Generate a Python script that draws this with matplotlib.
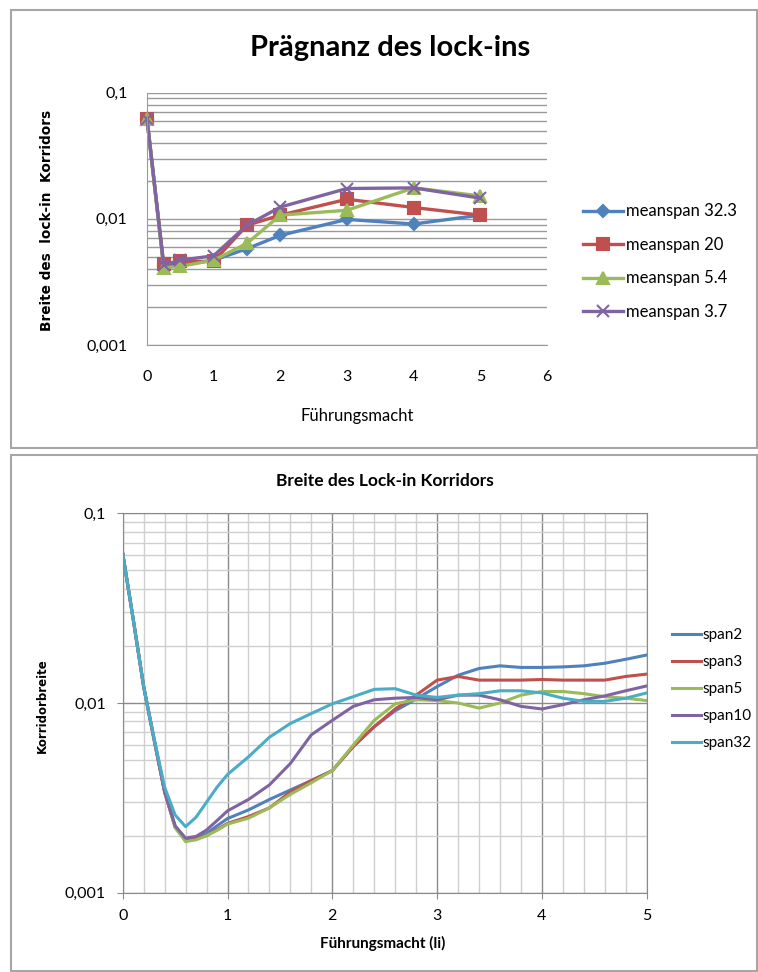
import matplotlib
matplotlib.use('Agg')
import matplotlib.pyplot as plt
from matplotlib.patches import Rectangle
from matplotlib.ticker import LogLocator, NullFormatter

plt.rcParams['font.family'] = ['Lato', 'DejaVu Sans']

# top chart: Prägnanz des lock-ins
top_x = [0, 0.25, 0.5, 1, 1.5, 2, 3, 4, 5]
meanspan_32 = [0.062, 0.0042, 0.0043, 0.0047, 0.0058, 0.0074, 0.0099, 0.0091, 0.0107]
meanspan_20 = [0.062, 0.0044, 0.0046, 0.0046, 0.0089, 0.0107, 0.0143, 0.0123, 0.0107]
meanspan_5 = [0.062, 0.0041, 0.0042, 0.0047, 0.0064, 0.0107, 0.0117, 0.0176, 0.0152]
meanspan_3 = [0.062, 0.0043, 0.0047, 0.0051, 0.0089, 0.0124, 0.0174, 0.0176, 0.0146]

# bottom chart: Breite des Lock-in Korridors
bot_x = [0, 0.1, 0.2, 0.3, 0.4, 0.5, 0.6, 0.7, 0.8, 0.9, 1.0, 1.2, 1.4, 1.6, 1.8, 2.0, 2.2, 2.4,
         2.6, 2.8, 3.0, 3.2, 3.4, 3.6, 3.8, 4.0, 4.2, 4.4, 4.6, 4.8, 5.0]
span2 = [0.0615, 0.0277, 0.0122, 0.0064, 0.0034, 0.00225, 0.00192, 0.00196, 0.00205, 0.00225,
         0.00246, 0.00273, 0.0031, 0.00348, 0.0039, 0.0044, 0.0059, 0.0075, 0.0091, 0.0105,
         0.0122, 0.0140, 0.0152, 0.0157, 0.0154, 0.0154, 0.0155, 0.0157, 0.0162, 0.0170, 0.0179]
span3 = [0.0615, 0.0277, 0.0122, 0.0064, 0.0034, 0.00222, 0.0019, 0.00192, 0.0020, 0.00215,
         0.00232, 0.00252, 0.0028, 0.0034, 0.0039, 0.0044, 0.0059, 0.0075, 0.0093, 0.0110,
         0.0132, 0.0138, 0.0132, 0.0132, 0.0132, 0.0133, 0.0132, 0.0132, 0.0132, 0.0138, 0.0142]
span5 = [0.0615, 0.0277, 0.0122, 0.0064, 0.0034, 0.0022, 0.00186, 0.0019, 0.0020, 0.00213,
         0.00230, 0.00247, 0.0028, 0.0033, 0.0038, 0.0044, 0.0060, 0.0081, 0.0099, 0.0104,
         0.0103, 0.0100, 0.0094, 0.0100, 0.0110, 0.0115, 0.0115, 0.0112, 0.0108, 0.0106, 0.0103]
span10 = [0.0615, 0.0277, 0.0122, 0.0064, 0.0034, 0.00225, 0.00194, 0.00198, 0.00214, 0.0024,
          0.0027, 0.0031, 0.0037, 0.0048, 0.0068, 0.0081, 0.0096, 0.0104, 0.0106, 0.0107,
          0.0104, 0.0110, 0.0110, 0.0104, 0.0096, 0.0093, 0.0098, 0.0104, 0.0109, 0.0116, 0.0123]
span32 = [0.0615, 0.0277, 0.0122, 0.0065, 0.0036, 0.00257, 0.00223, 0.0025, 0.0030, 0.0036,
          0.0042, 0.0052, 0.0066, 0.0078, 0.0088, 0.0099, 0.0108, 0.0118, 0.0119, 0.0110,
          0.0107, 0.0110, 0.0112, 0.0116, 0.0116, 0.0113, 0.0106, 0.0102, 0.0102, 0.0106, 0.0113]

y_ticks = [0.001, 0.01, 0.1]
y_tick_labels = ['0,001', '0,01', '0,1']

BLUE, RED, GREEN, PURPLE, CYAN = '#4F81BD', '#C0504D', '#9BBB59', '#8064A2', '#4BACC6'


def px(x0, y0, x1, y1):
    W, H = 758.0, 972.0
    return [x0 / W, 1 - y1 / H, (x1 - x0) / W, (y1 - y0) / H]


fig = plt.figure(figsize=(7.58, 9.72), dpi=100)
fig.patch.set_facecolor('white')

# panel borders
for rect in (px(11, 10, 757, 448), px(11, 455, 757, 971)):
    fig.patches.append(Rectangle((rect[0], rect[1]), rect[2], rect[3], transform=fig.transFigure,
                                 fill=False, edgecolor='#a6a6a6', lw=1.5))

# ---------- top chart ----------
ax = fig.add_axes(px(147, 92.7, 547, 345))
ax.set_yscale('log')
ax.set_ylim(0.001, 0.1)
ax.set_xlim(0, 6)
top = [
    ('meanspan 32.3', meanspan_32, 'D', 6, BLUE),
    ('meanspan 20', meanspan_20, 's', 8, RED),
    ('meanspan 5.4', meanspan_5, '^', 8, GREEN),
    ('meanspan 3.7', meanspan_3, 'x', 9, PURPLE),
]
for name, vals, mk, ms, color in top:
    ax.plot(top_x, vals, marker=mk, markersize=ms, color=color, lw=2.4, mew=1.5,
            label=name, clip_on=False)
ax.set_yticks(y_ticks)
ax.set_yticklabels(y_tick_labels)
ax.yaxis.set_minor_locator(LogLocator(base=10, subs=range(2, 10)))
ax.yaxis.set_minor_formatter(NullFormatter())
ax.set_xticks(range(0, 7))
ax.grid(which='both', axis='y', color='#9a9a9a', lw=1)
ax.set_axisbelow(True)
for s in ('top', 'right'):
    ax.spines[s].set_visible(False)
for s in ('left', 'bottom'):
    ax.spines[s].set_color('#9a9a9a')
ax.tick_params(axis='x', length=0, pad=18, labelsize=11.5)
ax.tick_params(axis='y', which='both', length=0, pad=14, labelsize=11.5)
ax.legend(loc='center left', bbox_to_anchor=(1.09, 0.33), frameon=False, fontsize=12,
          borderaxespad=0, borderpad=0, handlelength=2.4, handletextpad=0.2, labelspacing=1.05)
fig.text(390 / 758, 1 - 48 / 972, 'Prägnanz des lock-ins', ha='center', va='center',
         fontsize=21, fontweight='bold')
fig.text(47 / 758, 1 - 220 / 972, 'Breite des  lock-in  Korridors', ha='center', va='center',
         rotation=90, fontsize=9.8, fontweight='bold', family='DejaVu Sans')
fig.text(357 / 758, 1 - 416 / 972, 'Führungsmacht', ha='center', va='center', fontsize=12)

# ---------- bottom chart ----------
ax2 = fig.add_axes(px(122.7, 513.3, 646.7, 892.7))
ax2.set_yscale('log')
ax2.set_ylim(0.001, 0.1)
ax2.set_xlim(0, 5)
bottom = [
    ('span2', span2, BLUE),
    ('span3', span3, RED),
    ('span5', span5, GREEN),
    ('span10', span10, PURPLE),
    ('span32', span32, CYAN),
]
for name, vals, color in bottom:
    ax2.plot(bot_x, vals, color=color, lw=2.2, label=name, solid_joinstyle='round')
ax2.set_yticks(y_ticks)
ax2.set_yticklabels(y_tick_labels)
ax2.yaxis.set_minor_locator(LogLocator(base=10, subs=range(2, 10)))
ax2.yaxis.set_minor_formatter(NullFormatter())
ax2.set_xticks(range(0, 6))
ax2.set_xticks([i / 5 for i in range(26)], minor=True)
ax2.grid(which='major', color='#8a8a8a', lw=1)
ax2.grid(which='minor', color='#cfcfcf', lw=1)
ax2.set_axisbelow(True)
for s in ax2.spines.values():
    s.set_color('#8a8a8a')
ax2.tick_params(which='major', length=4, color='#8a8a8a', pad=8, labelsize=11.5)
ax2.tick_params(which='minor', length=0)
ax2.legend(loc='center left', bbox_to_anchor=(1.048, 0.537), frameon=False, fontsize=11,
           borderaxespad=0, borderpad=0, handlelength=1.9, handletextpad=0.1, labelspacing=0.85)
fig.text(385 / 758, 1 - 481 / 972, 'Breite des Lock-in Korridors', ha='center', va='center',
         fontsize=12.5, fontweight='bold')
fig.text(42 / 758, 1 - 706 / 972, 'Korridorbreite', ha='center', va='center', rotation=90,
         fontsize=8.5, fontweight='bold', family='DejaVu Sans')
fig.text(383 / 758, 1 - 943 / 972, 'Führungsmacht (li)', ha='center', va='center',
         fontsize=11, fontweight='bold')

plt.savefig('out.png', dpi=100)
